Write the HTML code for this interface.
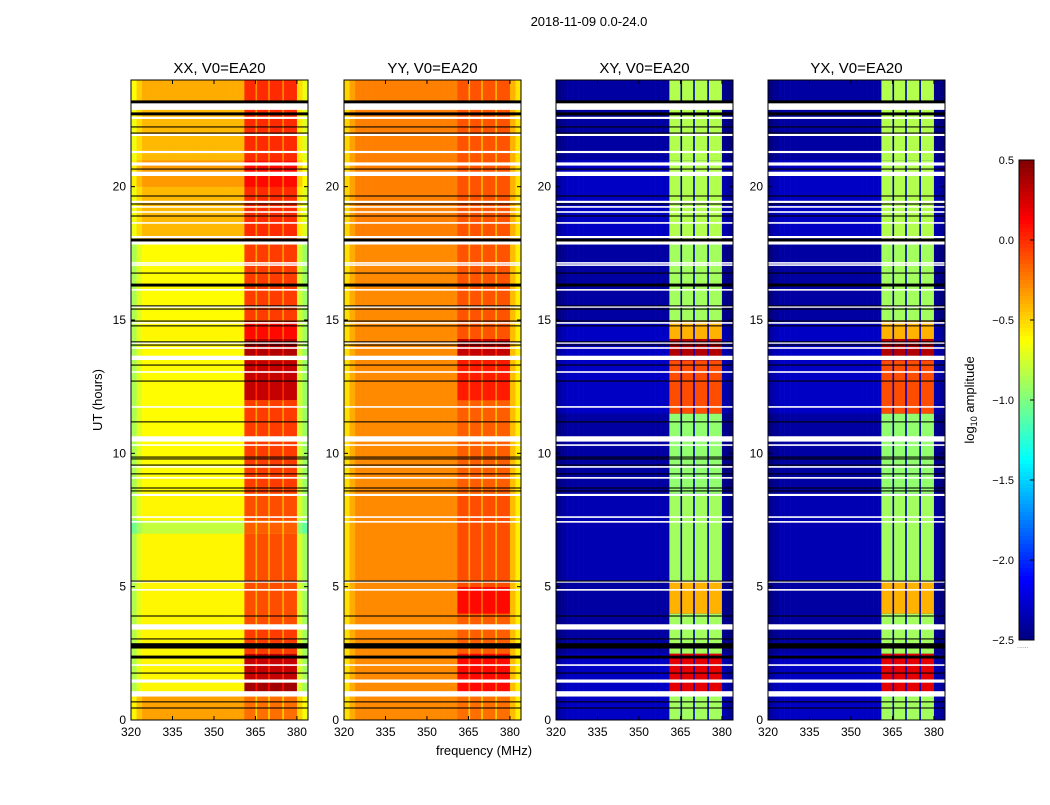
<!DOCTYPE html>
<html><head><meta charset="utf-8"><style>
body{margin:0;background:#fff;font-family:"Liberation Sans",sans-serif;}
svg text{font-family:"Liberation Sans",sans-serif;}
</style></head><body>
<svg id="c" width="1050" height="800" xmlns="http://www.w3.org/2000/svg">
<text x="589" y="26" font-size="13" text-anchor="middle">2018-11-09 0.0-24.0</text>
<text x="484" y="755" font-size="13" text-anchor="middle">frequency (MHz)</text>
<text transform="translate(102,400) rotate(-90)" font-size="13" text-anchor="middle">UT (hours)</text>
<text transform="translate(974,400) rotate(-90)" font-size="13" text-anchor="middle">log<tspan font-size="9" dy="3">10</tspan><tspan dy="-3"> amplitude</tspan></text>
</svg>
<script>
const panelTitles=["XX, V0=EA20","YY, V0=EA20","XY, V0=EA20","YX, V0=EA20"];
const xTicks=[320,335,350,365,380];
const yTicks=[0,5,10,15,20];
const cbTicks=[0.5,0.0,-0.5,-1.0,-1.5,-2.0,-2.5];
const cbTickLabels=["0.5","0.0","\u22120.5","\u22121.0","\u22121.5","\u22122.0","\u22122.5"];
// segments: [startHour, endHour, continuumValue, rfiBandValue]
const segXX=[[0,0.9,-0.35,-0.2],[0.9,1.5,-0.6,0.4],[1.5,2.5,-0.6,0.3],[2.5,3.5,-0.6,-0.05],[3.5,7,-0.6,-0.1],[7,7.5,-0.8,-0.15],[7.5,8.5,-0.6,-0.1],[8.5,12,-0.62,-0.05],[12,13.5,-0.62,0.3],[13.5,14.3,-0.62,0.35],[14.3,15,-0.6,0.1],[15,18,-0.62,-0.05],[18,20,-0.42,0],[20,21,-0.33,0.1],[21,23,-0.42,0],[23,24,-0.38,0]];
const segYY=[[0,0.9,-0.28,-0.2],[0.9,2.5,-0.28,0.1],[2.5,4,-0.28,-0.15],[4,5,-0.28,0.1],[5,8.5,-0.28,-0.1],[8.5,12,-0.28,-0.15],[12,13.5,-0.28,0.05],[13.5,14.3,-0.28,0.3],[14.3,18,-0.28,-0.12],[18,24,-0.25,-0.12]];
const segXY=[[0,0.9,-2.3,-0.9],[0.9,2.5,-2.3,0.2],[2.5,4,-2.4,-0.9],[4,5.2,-2.4,-0.4],[5.2,8.5,-2.35,-0.9],[8.5,11.5,-2.4,-0.95],[11.5,13.5,-2.3,-0.1],[13.5,14.3,-2.3,0.35],[14.3,15,-2.3,-0.4],[15,18,-2.4,-0.9],[18,21,-2.3,-0.85],[21,24,-2.4,-0.85]];
const segYX=[[0,0.9,-2.3,-0.9],[0.9,2.5,-2.3,0.2],[2.5,4,-2.4,-0.9],[4,5.2,-2.4,-0.4],[5.2,8.5,-2.35,-0.9],[8.5,11.5,-2.4,-0.95],[11.5,13.5,-2.3,-0.1],[13.5,14.3,-2.3,0.35],[14.3,15,-2.3,-0.4],[15,18,-2.4,-0.9],[18,21,-2.3,-0.85],[21,24,-2.4,-0.85]];
// per-column (2 MHz) offsets, 320..384
const colShape=[-0.25,-0.1,0,0,0,0,0,0,0,0,0,0,0,0,0,0,0,0,0,0,0,0,0,0,0,0,0,0,0,0,-0.15,-0.3];
const bandStart=361, bandEnd=380;
const gapFreqs=[365.3,369.9,375];
const whiteRows=[[23.02,0.28],[22.58,0.08],[21.94,0.08],[21.3,0.08],[20.85,0.12],[20.48,0.16],[19.43,0.08],[19.24,0.06],[19.05,0.06],[18.64,0.06],[18.11,0.08],[17.89,0.12],[17.14,0.06],[17.06,0.06],[16.13,0.06],[15.49,0.06],[14.89,0.06],[14.14,0.06],[13.95,0.06],[13.58,0.16],[13.05,0.06],[11.74,0.06],[10.54,0.2],[10.31,0.06],[9.49,0.06],[9.08,0.06],[8.44,0.08],[7.61,0.06],[7.43,0.06],[5.18,0.06],[4.88,0.06],[3.49,0.2],[2.06,0.06],[1.46,0.12],[0.98,0.2]];
const blackRows=[[23.18,0.11],[22.73,0.11],[22.24,0.04],[22.01,0.04],[20.66,0.04],[19.65,0.04],[19.35,0.04],[18.9,0.04],[18.0,0.11],[16.76,0.04],[16.31,0.11],[15.53,0.04],[15.41,0.04],[14.96,0.04],[14.78,0.04],[14.18,0.04],[14.06,0.04],[13.31,0.04],[12.71,0.04],[11.18,0.04],[9.86,0.04],[9.79,0.04],[9.56,0.04],[9.23,0.04],[8.7,0.04],[8.59,0.04],[5.21,0.04],[3.9,0.04],[3.04,0.04],[2.78,0.2],[2.36,0.11],[1.76,0.04],[0.68,0.04],[0.45,0.04]];

const NS="http://www.w3.org/2000/svg";
const svg=document.getElementById('c');
const panelLeft=[131,344,556,768], PW=177, PT=80, PH=640;
const vmin=-2.5,vmax=0.5;
function jet(v){let t=(v-vmin)/(vmax-vmin);t=Math.max(0,Math.min(1,t));
 const f=x=>Math.max(0,Math.min(1,x));
 const r=f(1.5-Math.abs(4*t-3)),g=f(1.5-Math.abs(4*t-2)),b=f(1.5-Math.abs(4*t-1));
 return `rgb(${Math.round(r*255)},${Math.round(g*255)},${Math.round(b*255)})`;}
function mk(tag,attrs,parent){const e=document.createElementNS(NS,tag);for(const k in attrs)e.setAttribute(k,attrs[k]);(parent||svg).appendChild(e);return e;}
const sx=(p,f)=>panelLeft[p]+(f-320)*PW/64;
const sy=h=>PT+PH-(h/24)*PH;
const segs=[segXX,segYY,segXY,segYX];
for(let p=0;p<4;p++){
 const g=mk('g',{});
 
 
 const cross=p>=2;
 segs[p].forEach(s=>{
  const yT=sy(s[1]),hh=sy(s[0])-sy(s[1])+0.3;
  for(let j=0;j<colShape.length;j++){
   const f0=320+2*j,f1=f0+2;
   const v=s[2]+(cross?colShape[j]*0.4:colShape[j]);
   const r=mk('rect',{x:sx(p,f0),y:yT,width:sx(p,f1)-sx(p,f0)+0.3,height:hh,fill:jet(v)},g);
   
   
  }
  const b=mk('rect',{x:sx(p,bandStart),y:yT,width:sx(p,bandEnd)-sx(p,bandStart),height:hh,fill:jet(s[3])},g);
  
  
  gapFreqs.forEach(gf=>{
   const v=cross?s[2]:s[3]-0.3;
   const r=mk('rect',{x:sx(p,gf)-0.8,y:yT,width:1.6,height:hh,fill:jet(v)},g);
   
   
  });
 });
 whiteRows.forEach(w=>{const r=mk('rect',{x:panelLeft[p],y:sy(w[0]+w[1]/2),width:PW,height:Math.max(1.5,w[1]/24*PH),fill:'#fff'},g);
  });
 blackRows.forEach(w=>{const r=mk('rect',{x:panelLeft[p],y:sy(w[0]+w[1]/2),width:PW,height:Math.max(1,w[1]/24*PH),fill:'#000'},g);
  });
 const fr=mk('rect',{x:panelLeft[p],y:PT,width:PW,height:PH,fill:'none',stroke:'#000','stroke-width':1});
 
 const t=mk('text',{x:panelLeft[p]+PW/2,y:PT-7,'font-size':15,'text-anchor':'middle'});t.textContent=panelTitles[p];
 
 xTicks.forEach(f=>{const x=sx(p,f);
  mk('line',{x1:x,x2:x,y1:PT+PH,y2:PT+PH-4,stroke:'#000'});mk('line',{x1:x,x2:x,y1:PT,y2:PT+4,stroke:'#000'});
  const l=mk('text',{x:x,y:PT+PH+16,'font-size':12,'text-anchor':'middle'});l.textContent=f;
  });
 yTicks.forEach(h=>{const y=sy(h);
  mk('line',{x1:panelLeft[p],x2:panelLeft[p]+4,y1:y,y2:y,stroke:'#000'});mk('line',{x1:panelLeft[p]+PW,x2:panelLeft[p]+PW-4,y1:y,y2:y,stroke:'#000'});
  const l=mk('text',{x:panelLeft[p]-5,y:y+4,'font-size':12,'text-anchor':'end'});l.textContent=h;
  });
}
// colorbar
const CX=1019,CW=15,CT=160,CH=480;
const cg=mk('g',{});
const cy=v=>CT+(vmax-v)/(vmax-vmin)*CH;
for(let i=0;i<120;i++){const v0=vmax-i*(vmax-vmin)/120;mk('rect',{x:CX,y:cy(v0),width:CW,height:CH/120+0.5,fill:jet(v0-(vmax-vmin)/240)},cg);}
mk('rect',{x:CX,y:CT,width:CW,height:CH,fill:'none',stroke:'#000'},cg);
cbTicks.forEach((v,i)=>{const y=cy(v);mk('line',{x1:CX+CW-4,x2:CX+CW,y1:y,y2:y,stroke:'#000'},cg);
 const l=mk('text',{x:CX-5,y:y+4,'font-size':11,'text-anchor':'end'},cg);l.textContent=cbTickLabels[i];
 });
const d=mk('text',{x:1017,y:648,'font-size':7,fill:'#777'});d.textContent='......';

</script>
</body></html>
